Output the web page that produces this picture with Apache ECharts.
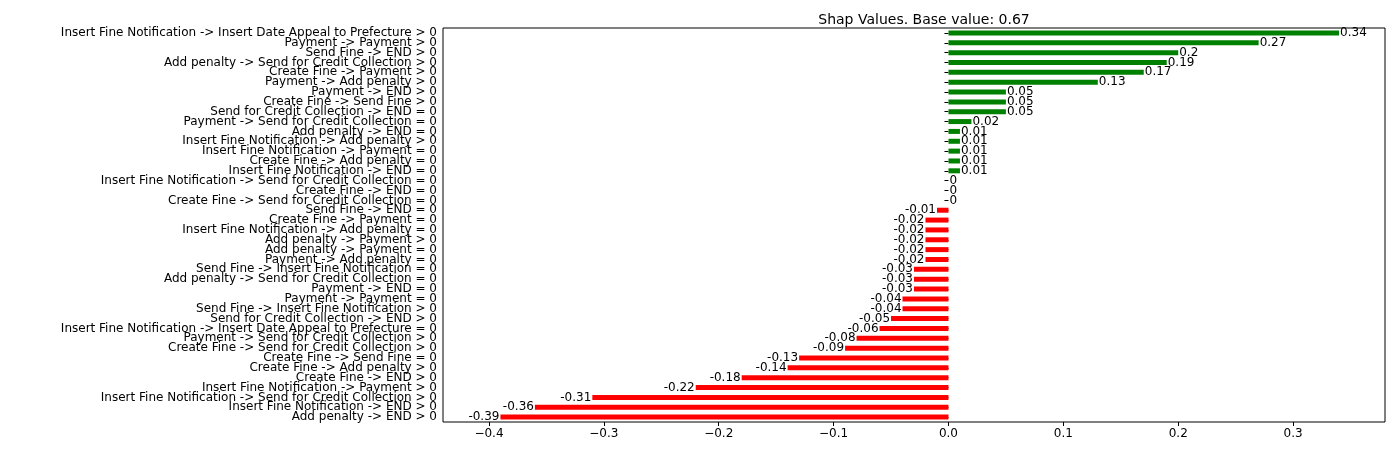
<!DOCTYPE html>
<html><head><meta charset="utf-8">
<script src="https://cdn.jsdelivr.net/npm/echarts@6/dist/echarts.min.js"></script>
<style>html,body{margin:0;padding:0;background:#fff}#c{width:1394px;height:451px}</style>
</head><body><div id="c"></div>
<script>
const categories = [
"Insert Fine Notification -> Insert Date Appeal to Prefecture > 0",
"Payment -> Payment > 0",
"Send Fine -> END > 0",
"Add penalty -> Send for Credit Collection > 0",
"Create Fine -> Payment > 0",
"Payment -> Add penalty > 0",
"Payment -> END > 0",
"Create Fine -> Send Fine > 0",
"Send for Credit Collection -> END = 0",
"Payment -> Send for Credit Collection = 0",
"Add penalty -> END = 0",
"Insert Fine Notification -> Add penalty > 0",
"Insert Fine Notification -> Payment = 0",
"Create Fine -> Add penalty = 0",
"Insert Fine Notification -> END = 0",
"Insert Fine Notification -> Send for Credit Collection = 0",
"Create Fine -> END = 0",
"Create Fine -> Send for Credit Collection = 0",
"Send Fine -> END = 0",
"Create Fine -> Payment = 0",
"Insert Fine Notification -> Add penalty = 0",
"Add penalty -> Payment > 0",
"Add penalty -> Payment = 0",
"Payment -> Add penalty = 0",
"Send Fine -> Insert Fine Notification = 0",
"Add penalty -> Send for Credit Collection = 0",
"Payment -> END = 0",
"Payment -> Payment = 0",
"Send Fine -> Insert Fine Notification > 0",
"Send for Credit Collection -> END > 0",
"Insert Fine Notification -> Insert Date Appeal to Prefecture = 0",
"Payment -> Send for Credit Collection > 0",
"Create Fine -> Send for Credit Collection > 0",
"Create Fine -> Send Fine = 0",
"Create Fine -> Add penalty > 0",
"Create Fine -> END > 0",
"Insert Fine Notification -> Payment > 0",
"Insert Fine Notification -> Send for Credit Collection > 0",
"Insert Fine Notification -> END > 0",
"Add penalty -> END > 0"];
const values = [0.34,0.27,0.2,0.19,0.17,0.13,0.05,0.05,0.05,0.02,0.01,0.01,0.01,0.01,0.01,0,0,0,
-0.01,-0.02,-0.02,-0.02,-0.02,-0.02,-0.03,-0.03,-0.03,-0.04,-0.04,-0.05,-0.06,-0.08,-0.09,-0.13,-0.14,-0.18,-0.22,-0.31,-0.36,-0.39];
const xTicks = [-0.4,-0.3,-0.2,-0.1,0,0.1,0.2,0.3];
const titleText = "Shap Values. Base value: 0.67";

const chart = echarts.init(document.getElementById('c'));
chart.setOption({
  animation:false,
  title:{text:titleText,left:919,top:8,textAlign:'center',textStyle:{fontFamily:'DejaVu Sans',fontSize:14,fontWeight:'normal',color:'#000'}},
  grid:{left:443,right:9,top:28,bottom:29,show:true,borderColor:'#000',borderWidth:1},
  xAxis:{type:'value',min:-0.44,max:0.38,splitLine:{show:false},
    axisLine:{show:false},
    axisTick:{show:true,length:4,customValues:xTicks,lineStyle:{color:'#000'}},
    axisLabel:{customValues:xTicks,color:'#000',fontFamily:'DejaVu Sans',fontSize:12,margin:6,
      formatter:v=>{const r=Math.round(v*10)/10;return (r<0?'\u2212'+Math.abs(r).toFixed(1):r.toFixed(1));}}},
  yAxis:{type:'category',data:categories,inverse:true,
    axisLine:{show:false},axisTick:{show:true,length:4,alignWithLabel:true,lineStyle:{color:'#000'}},
    axisLabel:{color:'#000',fontFamily:'DejaVu Sans',fontSize:12,margin:6,interval:0}},
  series:[{type:'bar',barWidth:5,
    data:values.map(v=>({value:v,itemStyle:{color:v>0?'#008000':'#ff0000'},
      label:{show:true,position:v<0?'left':'right',distance:1}})),
    label:{color:'#000',fontFamily:'DejaVu Sans',fontSize:12,formatter:p=>String(p.value)}}]
});
</script></body></html>
